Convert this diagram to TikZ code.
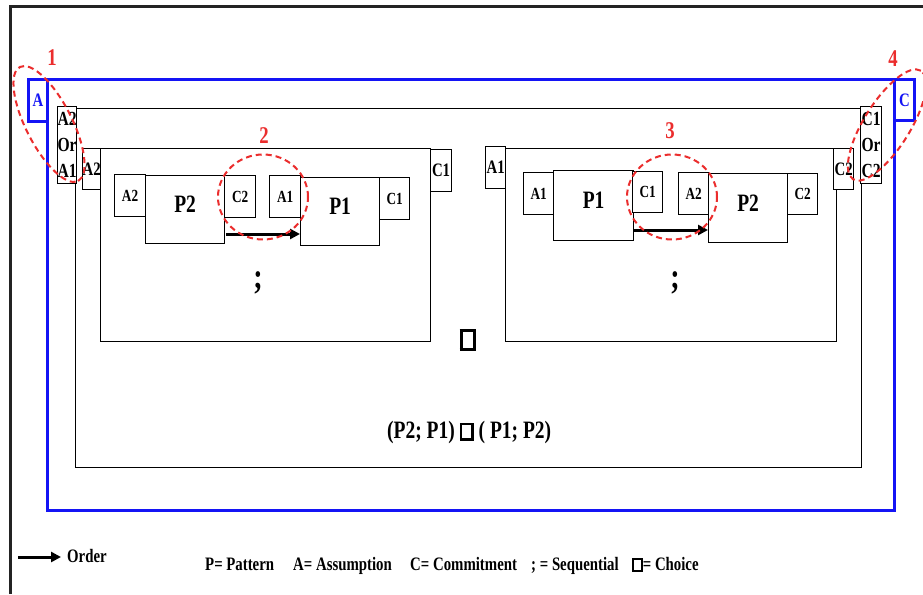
\documentclass[tikz,border=0pt]{standalone}
\usepackage{fontspec}
\setmainfont{Liberation Serif}[FakeStretch=0.78]
\usetikzlibrary{shapes.geometric,arrows.meta}
\definecolor{frameblue}{RGB}{20,20,245}
\definecolor{ringred}{RGB}{235,45,45}
\definecolor{framegray}{RGB}{35,35,35}
% thick square used as the choice operator
\newcommand\choicesym{{\setlength\fboxsep{0pt}\setlength\fboxrule{0.1em}\fbox{\rule{0pt}{0.52em}\hspace{0.36em}}}}
\tikzset{
  fs/.style={font=\bfseries\fontsize{#1}{#1}\selectfont},
  box/.style={draw=black, line width=1.2pt, fill=white, inner sep=0pt, anchor=north west},
  frame/.style={draw=black, line width=1.2pt, inner sep=0pt, anchor=north west},
  bluebox/.style={draw=frameblue, line width=3pt, fill=white, inner sep=0pt, anchor=north west, text=frameblue, fs=19},
  ring/.style={draw=ringred, line width=2pt, dash pattern=on 6pt off 4pt, ellipse, inner sep=0pt},
  ringlbl/.style={text=ringred, fs=24},
  legend/.style={fs=19, anchor=base west, inner sep=0pt},
  orderarrow/.style={line width=3pt, -{Triangle[length=10pt,width=10pt]}},
}
\begin{document}
\begin{tikzpicture}[x=1pt,y=-1pt]
\useasboundingbox (0,0) rectangle (923,594);
\fill[white] (0,0) rectangle (923,594);
% page frame
\draw[framegray, line width=3pt] (10,594) -- (10,7) -- (923,7);

% outer blue composition
\node[draw=frameblue, line width=3pt, inner sep=0pt, anchor=north west, minimum width=847pt, minimum height=431pt] (blue) at (46,78) {};
\node[bluebox, minimum width=19pt, minimum height=42pt] (A) at (27,78) {A};
\node[bluebox, minimum width=20pt, minimum height=41pt] (C) at (893,78) {C};

% choice container
\node[frame, minimum width=786pt, minimum height=359pt] (choice) at (75,108) {};
\node[box, minimum width=19pt, minimum height=77pt, align=center, font=\bfseries\fontsize{20}{26}\selectfont] (AorA) at (57,106) {A2\\Or\\A1};
\node[box, minimum width=21pt, minimum height=77pt, align=center, font=\bfseries\fontsize{20}{26}\selectfont] (CorC) at (860,106) {C1\\Or\\C2};

% left sequence P2 ; P1
\node[frame, minimum width=330pt, minimum height=193pt] (seqL) at (100,148) {};
\node[box, minimum width=18pt, minimum height=41pt, fs=19] (seqLA) at (82,148) {A2};
\node[box, minimum width=21pt, minimum height=42pt, fs=19] (seqLC) at (430,149) {C1};
\node[box, minimum width=31pt, minimum height=42pt, fs=17] (a2L) at (114,174) {A2};
\node[box, minimum width=79pt, minimum height=68pt, fs=25] (p2L) at (145,175) {\raisebox{10pt}{P2}};
\node[box, minimum width=31pt, minimum height=42pt, fs=17] (c2L) at (224,175) {C2};
\node[box, minimum width=31pt, minimum height=42pt, fs=17] (a1L) at (269,175) {A1};
\node[box, minimum width=79pt, minimum height=68pt, fs=25] (p1L) at (300,177) {\raisebox{10pt}{P1}};
\node[box, minimum width=30pt, minimum height=42pt, fs=17] (c1L) at (379,177) {C1};
\draw[orderarrow] ([xshift=2pt]c2L.west |- 0,234) -- (p1L.west |- 0,234);
\node[fs=36] (semiL) at (258,283) {;};

% right sequence P1 ; P2
\node[frame, minimum width=331pt, minimum height=193pt] (seqR) at (505,148) {};
\node[box, minimum width=20pt, minimum height=42pt, fs=19] (seqRA) at (485,146) {A1};
\node[box, minimum width=20pt, minimum height=41pt, fs=19] (seqRC) at (833,148) {C2};
\node[box, minimum width=30pt, minimum height=42pt, fs=17] (a1R) at (523,172) {A1};
\node[box, minimum width=80pt, minimum height=70pt, fs=25] (p1R) at (553,170) {\raisebox{10pt}{P1}};
\node[box, minimum width=30pt, minimum height=41pt, fs=17] (c1R) at (632,171) {C1};
\node[box, minimum width=30pt, minimum height=42pt, fs=17] (a2R) at (678,172) {A2};
\node[box, minimum width=79pt, minimum height=69pt, fs=25] (p2R) at (708,173) {\raisebox{10pt}{P2}};
\node[box, minimum width=30pt, minimum height=41pt, fs=17] (c2R) at (787,173) {C2};
\draw[orderarrow] ([xshift=2pt]c1R.west |- 0,230) -- (p2R.west |- 0,230);
\node[fs=36] (semiR) at (675,283) {;};

% choice operator and expression
\node[fs=30, inner sep=0pt] (chop) at (468,340) {\choicesym};
\node[fs=25, anchor=base west, inner sep=0pt] (expr) at (387,438) {(P2; P1) \choicesym{} ( P1; P2)};

% highlighted regions
\node[ring, minimum width=128pt, minimum height=46pt, rotate=-63] (ring1) at (49,124) {};
\node[ring, minimum width=90pt, minimum height=85pt] (ring2) at (263,197) {};
\node[ring, minimum width=90pt, minimum height=85pt] (ring3) at (672,197) {};
\node[ring, minimum width=128pt, minimum height=46pt, rotate=58] (ring4) at (887,125) {};
\node[ringlbl] (lbl1) at (52,58) {1};
\node[ringlbl] (lbl2) at (264,136) {2};
\node[ringlbl] (lbl3) at (670,131) {3};
\node[ringlbl] (lbl4) at (893,59) {4};

% legend
\coordinate (ordtail) at (18,557);
\node[legend] (ordlbl) at (67,562) {Order};
\draw[orderarrow] (ordtail) -- ([xshift=-6pt]ordlbl.west |- ordtail);
\node[legend] (legP) at (205,570) {P= Pattern};
\node[legend] (legA) at (293,570) {A= Assumption};
\node[legend] (legC) at (410,570) {C= Commitment};
\node[legend] (legS) at (531,570) {; = Sequential};
\node[legend] (legX) at (632,570) {\choicesym= Choice};
\end{tikzpicture}
\end{document}
